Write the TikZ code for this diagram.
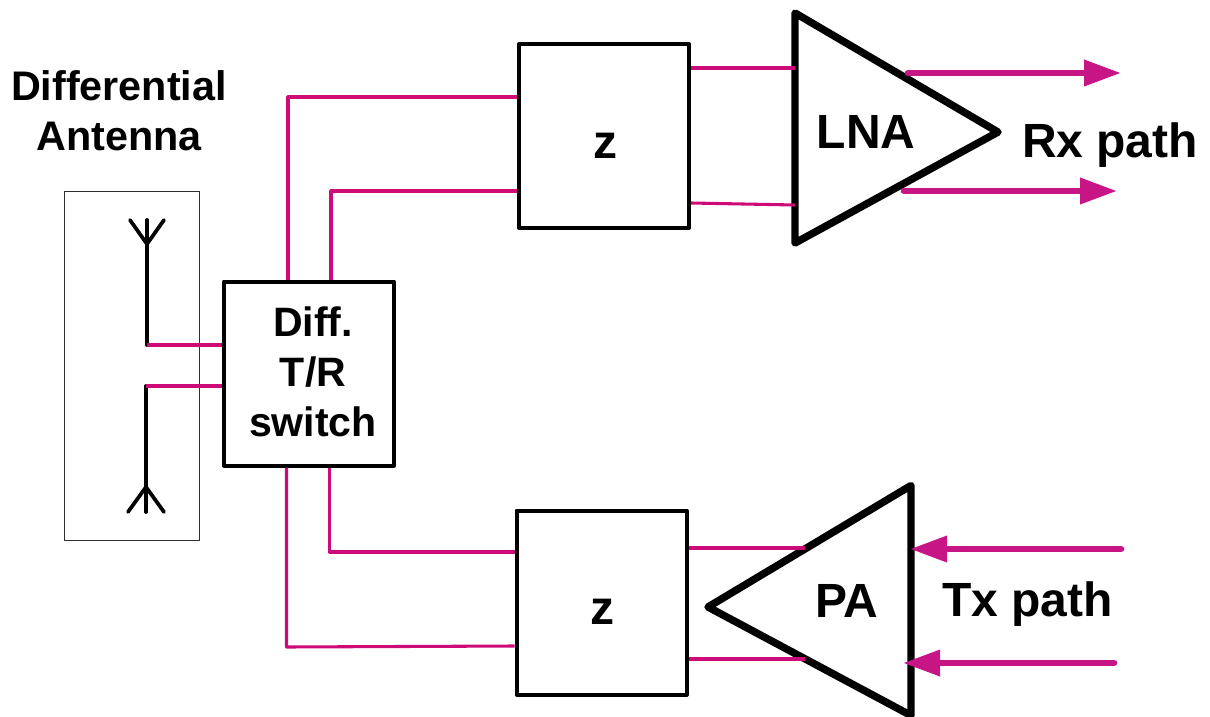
\documentclass[tikz,border=0pt]{standalone}
\usepackage{fontspec}
\setmainfont{Liberation Sans}
\usepackage{xcolor}
\usetikzlibrary{shapes.geometric,arrows.meta}
\definecolor{wireMagenta}{HTML}{CC0A78}
\definecolor{pathMagenta}{HTML}{C71585}
\definecolor{frameGray}{HTML}{303030}
\tikzset{
  framebox/.style={rectangle,draw=frameGray,line width=0.7pt,minimum width=101.25pt,minimum height=261.75pt,inner sep=0pt},
  block/.style={rectangle,draw=black,line width=3pt,line join=round,minimum width=127.5pt,minimum height=138pt,inner sep=0pt},
  blocktext/.style={align=center,inner sep=0pt,font=\bfseries\fontsize{30.8}{37.5}\selectfont},
  ztext/.style={inner sep=0pt,xshift=0.8pt,yshift=-7pt,font=\bfseries\fontsize{36}{37.5}\selectfont},
  amp/.style={isosceles triangle,isosceles triangle stretches,draw=black,line width=5.6pt,line join=round,
    inner sep=0pt,outer sep=0pt,transform shape},
  pathlabel/.style={font=\bfseries\fontsize{36}{37.5}\selectfont,inner sep=0pt,anchor=base},
  wire/.style={draw=wireMagenta,line width=2.3pt,line join=round},
  arrow/.style={draw=pathMagenta,line width=5pt,line cap=round,-{Triangle[length=27.75pt,width=18.75pt]}},
  dipole/.style={draw=black,line width=2.8pt,line cap=round,line join=round}
}
\begin{document}
\begin{tikzpicture}[x=0.75pt,y=-0.75pt]
\useasboundingbox (0,0) rectangle (1210,717);

\node[framebox] (frame) at (131.5,365.5) {};
\node[font=\bfseries\fontsize{31}{37.5}\selectfont,align=center,inner sep=0pt,anchor=base] (title) at (119,150) {Differential\\Antenna};

\node[block,label={[blocktext,name=swtext,xshift=3pt,yshift=1pt]center:Diff.\\T/R\\switch}] (sw) at (309,373.5) {};
\node[block,label={[ztext,name=ztoptext]center:z}] (ztop) at (604,136) {};
\node[block,label={[ztext,name=zbottext]center:z}] (zbot) at (601.5,602.5) {};

\node[amp,minimum width=172.5pt,minimum height=152.25pt,yslant=-0.02,anchor=lower side] (lna) at (795,128) {};
\node[amp,minimum width=172.5pt,minimum height=152.25pt,shape border rotate=180,yslant=0.032,anchor=lower side] (pa) at (911,600.5) {};
\node[pathlabel] (lnatext) at (866,148) {LNA};
\node[pathlabel] (patext) at (847,617) {PA};
\node[pathlabel] (rxtext) at (1110,157) {Rx path};
\node[pathlabel] (txtext) at (1027.5,616) {Tx path};

% antenna halves
\coordinate (upfeed) at (147,345);
\coordinate (upjoin) at (147,244);
\coordinate (uptop) at (147,220);
\coordinate (upleft) at (130,220);
\coordinate (upright) at (164,220);
\coordinate (lowfeed) at (146,386);
\coordinate (lowjoin) at (146,487);
\coordinate (lowend) at (146,512);
\coordinate (lowleft) at (128,512);
\coordinate (lowright) at (164,512);
\draw[dipole] (upfeed) -- (uptop);
\draw[dipole] (upleft) -- (upjoin) -- (upright);
\draw[dipole] (lowfeed) -- (lowend);
\draw[dipole] (lowleft) -- (lowjoin) -- (lowright);
\draw[wire] (upfeed) -- (upfeed -| sw.west);
\draw[wire] (lowfeed) -- (lowfeed -| sw.west);

% switch to z blocks
\coordinate (t1) at (288,97);
\coordinate (t2) at (331,191);
\coordinate (b1) at (286.5,647);
\coordinate (b2) at (329.5,552);
\draw[wire] (t1 |- sw.north) -- (t1) -- (t1 -| ztop.west);
\draw[wire] (t2 |- sw.north) -- (t2) -- (t2 -| ztop.west);
\draw[wire] (b1 |- sw.south) -- (b1) -- (zbot.west |- 0,646);
\draw[wire] (b2 |- sw.south) -- (b2) -- (b2 -| zbot.west);

% z blocks to amplifiers
\coordinate (lnain1) at (795,68);
\coordinate (lnain2) at (795,205);
\coordinate (paout1) at (805,548);
\coordinate (paout2) at (805,659);
\draw[wire] (ztop.east |- lnain1) -- (lnain1);
\draw[wire] (ztop.east |- 0,203) -- (lnain2);
\draw[wire] (zbot.east |- paout1) -- (paout1);
\draw[wire] (zbot.east |- paout2) -- (paout2);

% rx and tx paths
\coordinate (rxout1) at (908,73);
\coordinate (rxout2) at (904,191);
\coordinate (rxend1) at (1121,73);
\coordinate (rxend2) at (1117,191);
\coordinate (txin1) at (1121,549);
\coordinate (txin2) at (1114,663);
\coordinate (paend1) at (910,549);
\coordinate (paend2) at (903,663);
\draw[arrow] (rxout1) -- (rxend1);
\draw[arrow] (rxout2) -- (rxend2);
\draw[arrow] (txin1) -- (paend1);
\draw[arrow] (txin2) -- (paend2);
\end{tikzpicture}
\end{document}
